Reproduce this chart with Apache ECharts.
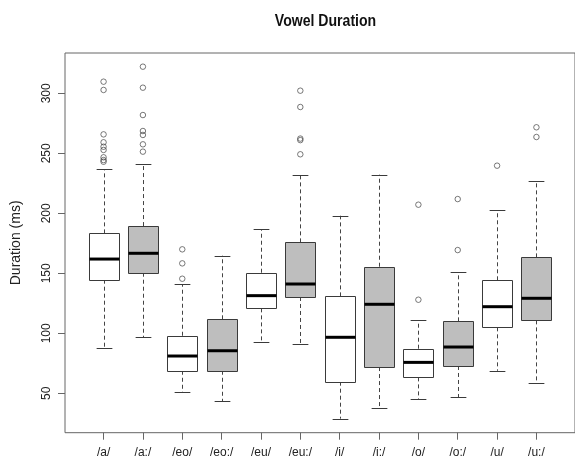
<!DOCTYPE html>
<html>
<head>
<meta charset="utf-8">
<script src="https://cdn.jsdelivr.net/npm/echarts@6/dist/echarts.min.js"></script>
<style>
html,body{margin:0;padding:0;background:#fff;}
#chart{width:575px;height:464px;}
</style>
</head>
<body>
<div id="chart"></div>
<script>
const categories = ['/a/', '/a:/', '/eo/', '/eo:/', '/eu/', '/eu:/', '/i/', '/i:/', '/o/', '/o:/', '/u/', '/u:/'];
const lowerWhisker = [87.5, 96.7, 50.8, 43.6, 93.0, 90.8, 28.9, 37.5, 45.3, 46.7, 68.8, 58.6];
const q1Values     = [144.7, 150.5, 68.8, 68.8, 120.8, 130.3, 59.7, 71.9, 63.3, 72.8, 105.0, 110.8];
const medianValues = [161.9, 166.7, 81.1, 85.5, 131.4, 141.1, 96.7, 124.2, 75.8, 88.6, 122.2, 129.2];
const q3Values     = [183.3, 189.4, 98.0, 111.7, 150.5, 175.8, 130.8, 155.5, 87.2, 110.0, 144.2, 163.3];
const upperWhisker = [236.7, 240.8, 140.8, 164.7, 186.9, 232.2, 198.0, 232.2, 110.8, 150.8, 202.5, 226.9];
const outliers = [
  [309.7, 302.8, 265.8, 259.2, 255.5, 252.8, 246.7, 244.4, 243.0],
  [322.2, 304.7, 281.9, 268.6, 265.3, 257.5, 251.4],
  [170.0, 158.3, 145.5],
  [],
  [],
  [302.2, 288.6, 262.3, 261.0, 249.2],
  [],
  [],
  [207.2, 128.0],
  [211.9, 169.4],
  [239.7],
  [271.7, 263.6]
];
const yTicks = [50, 100, 150, 200, 250, 300];

const boxData = categories.map((c, i) => [i + 1, lowerWhisker[i], q1Values[i], medianValues[i], q3Values[i], upperWhisker[i]]);
const outlierData = [];
outliers.forEach((arr, i) => arr.forEach(v => outlierData.push([i + 1, v])));

const chart = echarts.init(document.getElementById('chart'), null, {renderer: 'canvas'});
const STROKE = '#3a3a3a';
const px = v => Math.round(v) + 0.5;

chart.setOption({
  animation: false,
  backgroundColor: '#ffffff',
  textStyle: {fontFamily: "'Liberation Sans', Arial, sans-serif"},
  graphic: [{
    type: 'text',
    x: 325.5,
    y: 21.5,
    scaleX: 0.88,
    style: {
      text: 'Vowel Duration',
      fill: '#111',
      font: "bold 16px 'Liberation Sans', Arial, sans-serif",
      align: 'center',
      verticalAlign: 'middle'
    }
  }],
  grid: {
    left: 65, top: 53, width: 521.9, height: 379.7,
    show: true, borderColor: '#666', borderWidth: 1, backgroundColor: 'transparent'
  },
  xAxis: {
    type: 'value',
    min: 0.02, max: 12.98,
    axisLine: {show: false},
    splitLine: {show: false},
    axisTick: {show: true, length: 7, lineStyle: {color: '#666'}, customValues: categories.map((c, i) => i + 1)},
    axisLabel: {
      show: true, margin: 14, fontSize: 12, color: '#222',
      customValues: categories.map((c, i) => i + 1),
      formatter: v => categories[Math.round(v) - 1] || ''
    }
  },
  yAxis: {
    type: 'value',
    min: 17.2, max: 333.6,
    name: 'Duration (ms)',
    nameLocation: 'middle',
    nameGap: 42,
    nameTextStyle: {fontSize: 14, color: '#222'},
    axisLine: {show: false},
    splitLine: {show: false},
    axisTick: {show: true, length: 7, lineStyle: {color: '#666'}, customValues: yTicks},
    axisLabel: {show: true, rotate: 90, margin: 12, fontSize: 12, color: '#222', customValues: yTicks}
  },
  series: [{
    type: 'custom',
    silent: true,
    data: boxData,
    encode: {x: 0, y: [1, 2, 3, 4, 5]},
    renderItem: function (params, api) {
      const x = api.value(0);
      const lo = api.coord([x, api.value(1)]);
      const q1 = api.coord([x, api.value(2)]);
      const md = api.coord([x, api.value(3)]);
      const q3 = api.coord([x, api.value(4)]);
      const hi = api.coord([x, api.value(5)]);
      const half = api.size([0.4, 0])[0];
      const cap = api.size([0.2, 0])[0];
      const cx = px(md[0]);
      const fill = (params.dataIndex % 2) ? '#bebebe' : '#ffffff';
      const dash = {stroke: '#444', lineWidth: 1, lineDash: [4, 3]};
      const solid = {stroke: STROKE, lineWidth: 1};
      const left = Math.round(cx - half) + 0.5, right = Math.round(cx + half) - 0.5;
      return {
        type: 'group',
        children: [
          {type: 'line', shape: {x1: cx, y1: q3[1], x2: cx, y2: hi[1]}, style: dash},
          {type: 'line', shape: {x1: cx, y1: q1[1], x2: cx, y2: lo[1]}, style: dash},
          {type: 'line', shape: {x1: cx - cap, y1: px(hi[1]), x2: cx + cap, y2: px(hi[1])}, style: solid},
          {type: 'line', shape: {x1: cx - cap, y1: px(lo[1]), x2: cx + cap, y2: px(lo[1])}, style: solid},
          {type: 'rect', shape: {x: left, y: px(q3[1]), width: right - left, height: px(q1[1]) - px(q3[1])},
            style: {fill: fill, stroke: STROKE, lineWidth: 1}},
          {type: 'line', shape: {x1: left, y1: md[1], x2: right, y2: md[1]}, style: {stroke: '#000', lineWidth: 3}}
        ]
      };
    }
  }, {
    type: 'scatter',
    silent: true,
    data: outlierData,
    symbol: 'circle',
    symbolSize: 5.5,
    itemStyle: {color: 'rgba(255,255,255,0)', borderColor: '#444', borderWidth: 0.9}
  }]
});
</script>
</body>
</html>
